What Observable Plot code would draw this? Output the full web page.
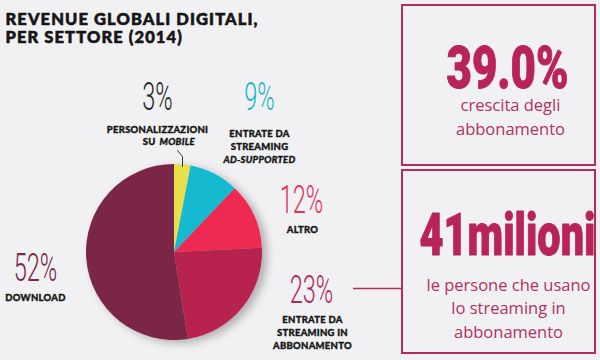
<!DOCTYPE html>
<html>
<head>
<meta charset="utf-8">
<script src="https://cdn.jsdelivr.net/npm/d3@7"></script>
<script src="https://cdn.jsdelivr.net/npm/@observablehq/plot@0.6"></script>
<style>
  html, body { margin: 0; padding: 0; background: #f1f1f3; }
  #chart { width: 600px; height: 360px; }
</style>
</head>
<body>
<div id="chart"></div>
<script>
// ---------- data ----------
const title = ["REVENUE GLOBALI DIGITALI,", "PER SETTORE (2014)"];
const categories = ["Personalizzazioni su mobile", "Entrate da streaming ad-supported", "Altro", "Entrate da streaming in abbonamento", "Download"];
const shares = [3, 9, 12, 23, 52];
const pctLabels = ["3%", "9%", "12%", "23%", "52%"];
const sliceColors = ["#e8e04b", "#18bad0", "#ee2a52", "#b8234f", "#7c2646"];
const pctColors = ["#262626", "#22b6ca", "#e0325c", "#b02a56", "#7c2646"];
const nameLines = [
  ["PERSONALIZZAZIONI", "SU", "MOBILE"],
  ["ENTRATE DA", "STREAMING", "AD-SUPPORTED"],
  ["ALTRO"],
  ["ENTRATE DA", "STREAMING IN", "ABBONAMENTO"],
  ["DOWNLOAD"]
];
const statValues = ["39.0%", "41milioni"];
const statCaptions = [["crescita degli", "abbonamento"], ["le persone che usano", "lo streaming in", "abbonamento"]];

// ---------- layout (pixel positions, kept apart from data) ----------
const pie = {cx: 174, cy: 252, r: 88};
const pctPos = [[157, 109], [259, 109], [301, 212], [311, 302], [35, 280]];
const namePos = [
  [[157, 132, "middle", "normal"], [155, 144, "end", "normal"], [159, 144, "start", "italic"]],
  [[259, 136, "middle", "normal"], [259, 149, "middle", "normal"], [259, 162, "middle", "italic"]],
  [[302, 232, "middle", "normal"]],
  [[312, 322, "middle", "normal"], [312, 335, "middle", "normal"], [312, 348, "middle", "normal"]],
  [[35, 300, "middle", "normal"]]
];
const boxes = [{x1: 402, x2: 595, y1: 5, y2: 165}, {x1: 402, x2: 595, y1: 170, y2: 353}];
const statPos = [[507, 87], [507, 254]];
const statSqueeze = [0.73, 0.69];
const captionPos = [[[510, 110], [510, 134]], [[508, 290], [508, 313], [508, 337]]];
const accent = "#b42c5a";

// ---------- build tables ----------
const slices = categories.map((c, i) => ({category: c, share: shares[i], color: sliceColors[i]}));
const pctRows = pctLabels.map((t, i) => ({text: t, color: pctColors[i], x: pctPos[i][0], y: pctPos[i][1]}));
const nameRows = nameLines.flatMap((lines, i) => lines.map((t, j) => ({
  text: t, x: namePos[i][j][0], y: namePos[i][j][1], anchor: namePos[i][j][2], style: namePos[i][j][3]
})));
const titleRows = title.map((t, i) => ({text: t, x: 5, y: 24 + i * 18}));
const statRows = statValues.map((t, i) => ({text: t, x: statPos[i][0], y: statPos[i][1]}));
const captionRows = statCaptions.flatMap((lines, i) => lines.map((t, j) => ({text: t, x: captionPos[i][j][0], y: captionPos[i][j][1]})));

function pieMark(index, scales) {
  const sx = scales && scales.x ? scales.x : (v => v);
  const sy = scales && scales.y ? scales.y : (v => v);
  const g = d3.create("svg:g");
  const f = g.append("defs").append("filter").attr("id", "pieShadow")
    .attr("x", "-20%").attr("y", "-20%").attr("width", "150%").attr("height", "150%");
  f.append("feDropShadow").attr("dx", 5).attr("dy", 3).attr("stdDeviation", 4)
    .attr("flood-color", "#000").attr("flood-opacity", 0.28);
  const arcs = d3.pie().sort(null).value(d => d.share)(slices);
  const arc = d3.arc().innerRadius(0).outerRadius(pie.r);
  g.append("g")
    .attr("transform", `translate(${sx(pie.cx)},${sy(pie.cy)})`)
    .attr("filter", "url(#pieShadow)")
    .selectAll("path").data(arcs).join("path")
    .attr("d", arc).attr("fill", d => d.data.color);
  return g.node();
}

const leader = [{x: 177, y: 150}, {x: 182, y: 156}, {x: 182, y: 166}];

const nameFont = {x: "x", y: "y", text: "text", lineAnchor: "bottom",
  fontFamily: "Lato, 'DejaVu Sans', sans-serif", fontWeight: 900, fontSize: 9.5,
  fill: "#161616", stroke: "#161616", strokeWidth: 0.35, ariaDescription: "name"};
const nameMark = (style, anchor) => Plot.text(
  nameRows.filter(d => d.style === style && d.anchor === anchor),
  {...nameFont, textAnchor: anchor, fontStyle: style});

const chart = Plot.plot({
  width: 600,
  height: 360,
  margin: 0,
  style: {background: "#f1f1f3", overflow: "visible"},
  x: {domain: [0, 600], range: [0, 600], axis: null},
  y: {domain: [0, 360], range: [0, 360], axis: null},
  marks: [
    Plot.text(titleRows, {x: "x", y: "y", text: "text", textAnchor: "start", lineAnchor: "bottom",
      fontFamily: "Lato, 'DejaVu Sans', sans-serif", fontWeight: 900, fontSize: 16.5,
      fill: "#161616", stroke: "#161616", strokeWidth: 0.6, ariaDescription: "title"}),
    pieMark,
    Plot.line(leader, {x: "x", y: "y", stroke: "#333", strokeWidth: 1}),
    Plot.text(pctRows, {x: "x", y: "y", text: "text", fill: "color", textAnchor: "middle", lineAnchor: "bottom",
      fontFamily: "Roboto, sans-serif", fontWeight: 300, fontSize: 38, ariaDescription: "pct"}),
    nameMark("normal", "middle"),
    nameMark("normal", "end"),
    nameMark("italic", "start"),
    nameMark("italic", "middle"),
    Plot.rect(boxes, {x1: "x1", x2: "x2", y1: "y1", y2: "y2", fill: "none", stroke: accent, strokeWidth: 2}),
    Plot.ruleY([288], {x1: 353, x2: 402, stroke: accent, strokeWidth: 1.5}),
    Plot.text(statRows, {x: "x", y: "y", text: "text", textAnchor: "middle", lineAnchor: "bottom",
      fontFamily: "Roboto, Lato, sans-serif", fontWeight: 900, fontSize: 60,
      fill: "#b8245a", stroke: "#b8245a", strokeWidth: 1, ariaDescription: "big"}),
    Plot.text(captionRows, {x: "x", y: "y", text: "text", textAnchor: "middle", lineAnchor: "bottom",
      fontFamily: "'Open Sans', sans-serif", fontWeight: 400, fontSize: 16.5, fill: "#b2305e"})
  ]
});

// condense the display numerals horizontally (like a condensed typeface)
function condense(desc, k) {
  chart.querySelectorAll(`g[aria-description="${desc}"] text`).forEach((t, i) => {
    const tr = t.getAttribute("transform") || "";
    t.setAttribute("transform", tr + ` scale(${Array.isArray(k) ? k[i] : k},1)`);
  });
}
condense("pct", 0.62);
condense("big", statSqueeze);
chart.querySelectorAll('g[aria-description="name"]').forEach(g => g.setAttribute("letter-spacing", "0.25"));
chart.querySelectorAll('g[aria-description="title"]').forEach(g => g.setAttribute("letter-spacing", "1.1"));

document.getElementById("chart").appendChild(chart);
</script>
</body>
</html>
